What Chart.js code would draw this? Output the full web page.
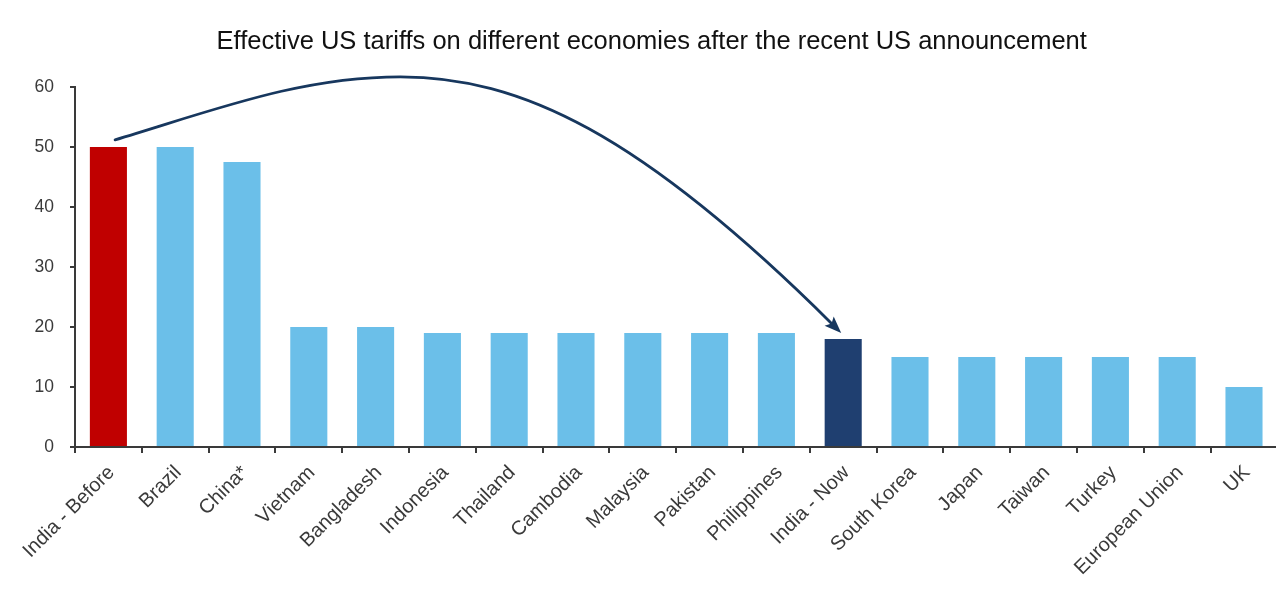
<!DOCTYPE html>
<html>
<head>
<meta charset="utf-8">
<script src="https://cdn.jsdelivr.net/npm/chart.js@4/dist/chart.umd.min.js"></script>
<style>
  html, body { margin: 0; padding: 0; background: #ffffff; overflow: hidden; }
  #wrap { width: 1282px; height: 589px; }
</style>
</head>
<body>
<div id="wrap"><canvas id="chart" width="1282" height="589"></canvas></div>
<script>
// Effective US tariff rate by economy (%)
const economies = [
  'India - Before', 'Brazil', 'China*', 'Vietnam', 'Bangladesh', 'Indonesia',
  'Thailand', 'Cambodia', 'Malaysia', 'Pakistan', 'Philippines', 'India - Now',
  'South Korea', 'Japan', 'Taiwan', 'Turkey', 'European Union', 'UK'
];
const tariffRates = [50, 50, 47.5, 20, 20, 19, 19, 19, 19, 19, 19, 18, 15, 15, 15, 15, 15, 10];
const yTicks = [0, 10, 20, 30, 40, 50, 60];

const titleText = 'Effective US tariffs on different economies after the recent US announcement';

// Highlight colours: India before (red), India now (navy), everyone else (light blue)
const barColors = economies.map(name =>
  name === 'India - Before' ? '#C00000' :
  name === 'India - Now' ? '#1F3F70' : '#6BBFE9'
);

// Curved arrow from "India - Before" to "India - Now", in (category index, value) space:
// two cubic Bezier segments joined at the crest.
const arrowStart = [0.10, 51.2];
const arrowSegments = [
  [[1.60, 56.2], [2.87, 61.7], [4.37, 61.7]],
  [[6.16, 61.7], [7.96, 52.3], [10.97, 19.0]]
];

const arrowPlugin = {
  id: 'indiaArrow',
  afterDatasetsDraw(chart) {
    const { ctx, scales: { x, y } } = chart;
    const P = p => [x.getPixelForValue(p[0]), y.getPixelForValue(p[1])];
    const color = '#17375E';
    const s = P(arrowStart);
    const last = arrowSegments[arrowSegments.length - 1];
    const tip = P(last[2]);
    const c2 = P(last[1]);
    const ang = Math.atan2(tip[1] - c2[1], tip[0] - c2[0]);
    const headLen = 17, headHalf = 6.5;
    // Stop the line at the base of the arrow head
    const base = [tip[0] - headLen * 0.8 * Math.cos(ang), tip[1] - headLen * 0.8 * Math.sin(ang)];

    ctx.save();
    ctx.strokeStyle = color;
    ctx.lineWidth = 2.8;
    ctx.lineCap = 'round';
    ctx.beginPath();
    ctx.moveTo(s[0], s[1]);
    arrowSegments.forEach((seg, i) => {
      const a = P(seg[0]), b = P(seg[1]);
      const e = (i === arrowSegments.length - 1) ? base : P(seg[2]);
      ctx.bezierCurveTo(a[0], a[1], b[0], b[1], e[0], e[1]);
    });
    ctx.stroke();

    ctx.fillStyle = color;
    ctx.beginPath();
    ctx.moveTo(tip[0], tip[1]);
    ctx.lineTo(tip[0] - headLen * Math.cos(ang) + headHalf * Math.sin(ang),
               tip[1] - headLen * Math.sin(ang) - headHalf * Math.cos(ang));
    ctx.lineTo(base[0], base[1]);
    ctx.lineTo(tip[0] - headLen * Math.cos(ang) - headHalf * Math.sin(ang),
               tip[1] - headLen * Math.sin(ang) + headHalf * Math.cos(ang));
    ctx.closePath();
    ctx.fill();
    ctx.restore();
  }
};

const axisColor = '#3a3a3a';
const fontFamily = "'Liberation Sans', Arial, sans-serif";

new Chart(document.getElementById('chart'), {
  type: 'bar',
  data: {
    labels: economies,
    datasets: [{
      data: tariffRates,
      backgroundColor: barColors,
      borderWidth: 0,
      barPercentage: 0.555,
      categoryPercentage: 1.0
    }]
  },
  options: {
    responsive: false,
    animation: false,
    layout: { padding: { left: 26, right: 4.6, top: 0, bottom: 0 } },
    plugins: {
      legend: { display: false },
      tooltip: { enabled: false },
      title: {
        display: true,
        text: titleText,
        color: '#111111',
        font: { family: fontFamily, size: 25.5, weight: 'normal', lineHeight: 1.2 },
        padding: { top: 27, bottom: 29.4 }
      }
    },
    scales: {
      x: {
        offset: true,
        border: { display: true, color: axisColor, width: 2 },
        grid: { display: true, offset: true, drawOnChartArea: false, drawTicks: true, tickLength: 6, color: axisColor, lineWidth: 2 },
        ticks: {
          autoSkip: false,
          maxRotation: 45,
          minRotation: 45,
          padding: 8,
          labelOffset: 3,
          color: '#3a3a3a',
          font: { family: fontFamily, size: 20 }
        },
        afterFit(scale) { scale.height = 142; }
      },
      y: {
        min: 0,
        max: 60,
        border: { display: true, color: axisColor, width: 2 },
        grid: { display: true, drawOnChartArea: false, drawTicks: true, tickLength: 5, color: axisColor, lineWidth: 2 },
        afterBuildTicks(scale) { scale.ticks = yTicks.map(v => ({ value: v })); },
        ticks: {
          padding: 16,
          color: '#3a3a3a',
          font: { family: fontFamily, size: 17.5 }
        },
        afterFit(scale) { scale.width = 49; }
      }
    }
  },
  plugins: [arrowPlugin]
});
</script>
</body>
</html>
